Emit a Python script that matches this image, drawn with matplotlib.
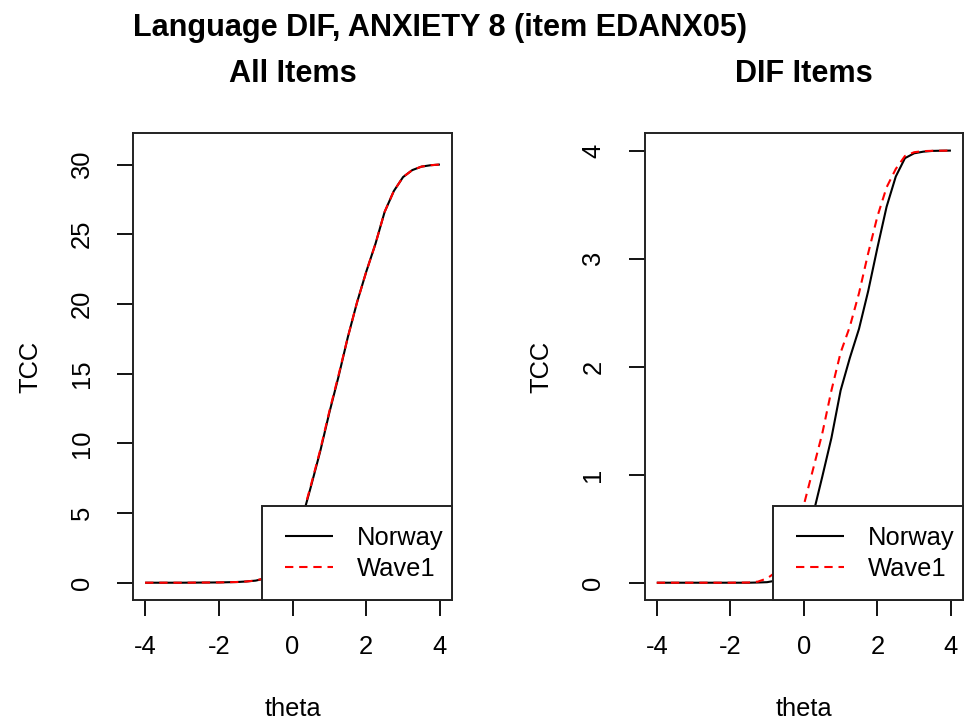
import matplotlib
matplotlib.use("Agg")
import matplotlib.pyplot as plt
from matplotlib.legend_handler import HandlerLine2D
from matplotlib.lines import Line2D

plt.rcParams['font.family'] = ['Liberation Sans', 'DejaVu Sans']

# ---- data ----
theta = [-4.0, -3.5, -3.0, -2.5, -2.0, -1.5, -1.25, -1.0, -0.75, -0.5, -0.25,
         0.0, 0.25, 0.5, 0.75, 1.0, 1.25, 1.5, 1.75, 2.0, 2.25, 2.5, 2.75,
         3.0, 3.25, 3.5, 3.75, 4.0]

all_norway = [0.0, 0.0, 0.0, 0.01, 0.02, 0.05, 0.09, 0.15, 0.3, 0.6, 1.3,
              2.5, 4.5, 6.9, 9.4, 12.2, 14.8, 17.6, 20.1, 22.3, 24.3, 26.6, 28.1,
              29.1, 29.6, 29.85, 29.95, 30.0]
all_wave1 = [0.0, 0.0, 0.0, 0.01, 0.02, 0.05, 0.09, 0.16, 0.32, 0.65, 1.35,
             2.6, 4.6, 7.0, 9.5, 12.3, 14.9, 17.6, 20.1, 22.3, 24.3, 26.6, 28.1,
             29.1, 29.6, 29.85, 29.95, 30.0]

dif_norway = [0.0, 0.0, 0.0, 0.0, 0.0, 0.0, 0.002, 0.005, 0.02, 0.06, 0.15,
              0.3, 0.63, 0.98, 1.34, 1.78, 2.08, 2.35, 2.7, 3.1, 3.48, 3.76, 3.93,
              3.975, 3.99, 3.997, 3.999, 4.0]
dif_wave1 = [0.0, 0.0, 0.0, 0.0, 0.0, 0.002, 0.01, 0.04, 0.1, 0.22, 0.42,
             0.72, 1.05, 1.38, 1.78, 2.13, 2.37, 2.68, 3.05, 3.39, 3.66, 3.83, 3.95,
             3.985, 3.995, 3.998, 3.999, 4.0]

series_names = ["Norway", "Wave1"]
panel_titles = ["All Items", "DIF Items"]
main_title = "Language DIF, ANXIETY 8 (item EDANX05)"
x_ticks = [-4, -2, 0, 2, 4]
y_ticks_all = [0, 5, 10, 15, 20, 25, 30]
y_ticks_dif = [0, 1, 2, 3, 4]

# ---- figure ----
W, H = 964, 722
fig = plt.figure(figsize=(W / 100, H / 100), dpi=100)

base_fs = 18.4
title_fs = 22.1
lw = 1.5


class RStyleLegendLine(HandlerLine2D):
    """Legend line with blank space on its left, like R's legend()."""

    def __init__(self, left_off=0.56, y_frac=0.36, **kw):
        super().__init__(**kw)
        self.left_off = left_off
        self.y_frac = y_frac

    def create_artists(self, legend, orig_handle, xdescent, ydescent,
                       width, height, fontsize, trans):
        y = self.y_frac * fontsize
        line = Line2D([-xdescent + self.left_off * fontsize, -xdescent + width],
                      [y, y])
        self.update_prop(line, orig_handle, legend)
        line.set_transform(trans)
        return [line]


def px_ax(x0, x1, y_top, y_bot):
    return [x0 / W, 1 - y_bot / H, (x1 - x0) / W, (y_bot - y_top) / H]


ax1 = fig.add_axes(px_ax(133.3, 451.7, 133.3, 600))
ax2 = fig.add_axes(px_ax(645, 962.7, 133.3, 600))

panels = [
    (ax1, all_norway, all_wave1, y_ticks_all, (-1.24, 32.24), panel_titles[0]),
    (ax2, dif_norway, dif_wave1, y_ticks_dif, (-0.16, 4.16), panel_titles[1]),
]

for ax, norway, wave1, yt, ylim, ttl in panels:
    l1, = ax.plot(theta, norway, color="black", lw=lw, solid_capstyle="butt",
                  label=series_names[0])
    l2, = ax.plot(theta, wave1, color="red", lw=lw, linestyle=(0, (4, 2.8)),
                  label=series_names[1])
    ax.set_xlim(-4.32, 4.32)
    ax.set_ylim(*ylim)
    ax.set_xticks(x_ticks)
    ax.set_xticklabels([str(v) for v in x_ticks])
    ax.set_yticks(yt)
    ax.set_yticklabels([str(v) for v in yt], rotation=90, va="center")
    ax.tick_params(axis="both", direction="out", length=11.5, width=1.3,
                   labelsize=base_fs, colors="black")
    ax.tick_params(axis="x", pad=14)
    ax.tick_params(axis="y", pad=17)
    for s in ax.spines.values():
        s.set_linewidth(1.4)
        s.set_color("#222222")
    ax.set_xlabel("theta", fontsize=base_fs, labelpad=27)
    ax.set_ylabel("TCC", fontsize=base_fs, labelpad=20)
    ax.set_title(ttl, fontsize=title_fs, fontweight="bold", pad=37)
    hmap = {l1: RStyleLegendLine(), l2: RStyleLegendLine()}
    leg = ax.legend(handles=[l1, l2], handler_map=hmap,
                    loc="lower right", bbox_to_anchor=(1.0, 0.0),
                    borderaxespad=0, fontsize=base_fs, fancybox=False,
                    framealpha=1, edgecolor="#222222", handlelength=2.43,
                    handleheight=2.39, handletextpad=0.94, borderpad=0.33,
                    labelspacing=-0.587)
    leg.get_frame().set_linewidth(1.4)

fig.text(440 / W, 1 - 28 / H, main_title, ha="center", va="center",
         fontsize=title_fs, fontweight="bold")

fig.savefig("out.png", dpi=100, facecolor="white")
